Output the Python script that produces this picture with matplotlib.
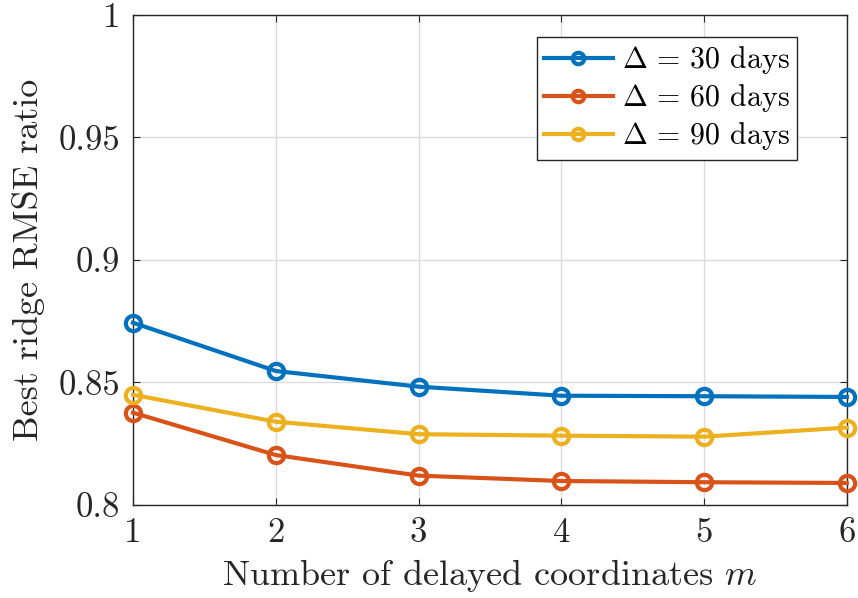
import matplotlib
matplotlib.use("Agg")
import matplotlib.pyplot as plt

m = [1, 2, 3, 4, 5, 6]
rmse_30 = [0.8744, 0.8547, 0.8483, 0.8446, 0.8444, 0.8441]
rmse_60 = [0.8377, 0.8204, 0.8120, 0.8098, 0.8093, 0.8090]
rmse_90 = [0.8450, 0.8340, 0.8289, 0.8283, 0.8279, 0.8316]
labels = [r'$\Delta$ = 30 days', r'$\Delta$ = 60 days', r'$\Delta$ = 90 days']
colors = ['#0072BD', '#D95319', '#EDB120']
yticks = [0.8, 0.85, 0.9, 0.95, 1.0]
ytick_labels = ['0.8', '0.85', '0.9', '0.95', '1']
xticks = [1, 2, 3, 4, 5, 6]

plt.rcParams['font.family'] = 'cmr10'
plt.rcParams['mathtext.fontset'] = 'cm'
plt.rcParams['axes.formatter.use_mathtext'] = True

fig = plt.figure(figsize=(8.58, 5.98), dpi=100)
ax = fig.add_axes([0.155, 0.1555, 0.832, 0.8195])

for vals, lab, c in zip([rmse_30, rmse_60, rmse_90], labels, colors):
    ax.plot(m, vals, '-o', color=c, lw=3, ms=11, mfc='none', mew=3, label=lab, clip_on=False, zorder=3)

ax.set_xlim(1, 6)
ax.set_ylim(0.8, 1.0)
ax.set_xticks(xticks)
ax.set_xticklabels([str(x) for x in xticks])
ax.set_yticks(yticks)
ax.set_yticklabels(ytick_labels)
ax.grid(True, color='#dcdcdc', lw=1)
ax.set_axisbelow(True)
for s in ax.spines.values():
    s.set_color('#262626')
    s.set_linewidth(1)
ax.tick_params(direction='in', length=5, top=True, right=True, labelsize=25, colors='#262626', pad=9)
ax.set_xlabel(r'Number of delayed coordinates $m$', fontsize=26, color='#262626', labelpad=6)
ax.set_ylabel('Best ridge RMSE ratio', fontsize=26, color='#262626', labelpad=10)

leg = ax.legend(loc='upper right', bbox_to_anchor=(0.930, 0.955), fontsize=21.5, fancybox=False,
                edgecolor='#262626', framealpha=1, markerscale=0.75,
                handlelength=2.3, borderpad=0.25, labelspacing=0.2, handletextpad=0.3, borderaxespad=0.0)
leg.get_frame().set_linewidth(1)

fig.savefig('out.png', dpi=100)
